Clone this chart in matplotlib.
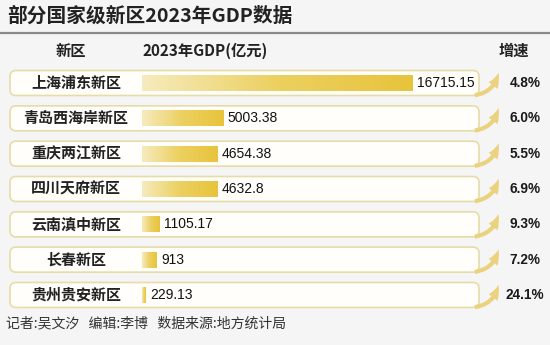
import numpy as np
import matplotlib
matplotlib.use("Agg")
import matplotlib.pyplot as plt
from matplotlib.patches import FancyBboxPatch, FancyArrowPatch
from matplotlib.colors import LinearSegmentedColormap

plt.rcParams["font.family"] = ["Noto Sans CJK SC", "DejaVu Sans"]

# data
areas = ["上海浦东新区", "青岛西海岸新区", "重庆两江新区", "四川天府新区",
         "云南滇中新区", "长春新区", "贵州贵安新区"]
gdp = [16715.15, 5003.38, 4654.38, 4632.8, 1105.17, 913, 229.13]
gdp_labels = ["16715.15", "5003.38", "4654.38", "4632.8", "1105.17", "913", "229.13"]
growth = ["4.8%", "6.0%", "5.5%", "6.9%", "9.3%", "7.2%", "24.1%"]

title = "部分国家级新区2023年GDP数据"
footer = "记者:吴文汐   编辑:李博   数据来源:地方统计局"

W, H = 550, 345
BG = "#f5f5f6"
row0, step = 83, 35.33          # row centres in pixels
num_font = ["Liberation Sans", "DejaVu Sans"]

fig = plt.figure(figsize=(W / 100, H / 100), dpi=100, facecolor=BG)
ax = fig.add_axes([0, 0, 1, 1])
ax.set_xlim(0, W); ax.set_ylim(H, 0); ax.axis("off")
ax.set_facecolor(BG)

# title + rule
ax.text(7, 16, title, fontsize=14.2, fontweight="bold", color="#222222",
        va="center", ha="left")
ax.plot([0, W], [33, 33], color="#8a8a8a", lw=1.6)

# header
ax.text(71, 51, "新区", fontsize=11, fontweight="bold", color="#222222",
        ha="center", va="center")
ax.text(205, 51, "2023年GDP(亿元)", fontsize=11, fontweight="bold", color="#222222",
        ha="center", va="center")
ax.text(514, 51, "增速", fontsize=11, fontweight="bold", color="#222222",
        ha="center", va="center")

for i, (name, g) in enumerate(zip(areas, growth)):
    yc = row0 + step * i
    box = FancyBboxPatch((10, yc - 12.5), 469, 25,
                         boxstyle="round,pad=0,rounding_size=6",
                         fc="#fffefa", ec="#e6dca8", lw=1.2, zorder=1)
    ax.add_patch(box)
    ax.text(76, yc, name, fontsize=10.8, fontweight="bold", color="#222222",
            ha="center", va="center", zorder=3)
    arr = FancyArrowPatch((472, yc + 12.5), (499, yc - 13),
                          connectionstyle="arc3,rad=0.4",
                          arrowstyle="simple,head_width=8,head_length=10,tail_width=3",
                          color="#ebd27e", lw=0, zorder=2)
    ax.add_patch(arr)
    ax.text(525, yc, g, fontsize=9.8, fontweight="bold", color="#1a1a1a",
            ha="center", va="center", family=num_font)

ax.text(6, 323, footer, fontsize=10, color="#333333", ha="left", va="center")

# bar panel, scaled so the largest bar runs from x=142px to x=413px
px_per_unit = (413 - 142) / gdp[0]
left_px, right_px = 142, 480
top_px = row0 - step / 2
bot_px = row0 + step * (len(areas) - 0.5)
bx = fig.add_axes([left_px / W, 1 - bot_px / H,
                   (right_px - left_px) / W, (bot_px - top_px) / H])
bx.axis("off")
bx.patch.set_alpha(0)

cmap = LinearSegmentedColormap.from_list("gold", ["#f6ebbe", "#ecd060", "#e8c43c"])
grad = np.linspace(0, 1, 256).reshape(1, -1)
bar_h = 16 / step
bars = bx.barh(range(len(areas)), gdp, height=bar_h, color="none", lw=0)
for i, (b, v, lab) in enumerate(zip(bars, gdp, gdp_labels)):
    bx.imshow(grad, extent=[0, v, i + bar_h / 2, i - bar_h / 2], cmap=cmap,
              aspect="auto", interpolation="bilinear", zorder=2)
    bx.annotate(lab, (v, i), xytext=(3, 0), textcoords="offset points",
                ha="left", va="center", fontsize=10, color="#111111",
                family=num_font, zorder=3)
bx.set_xlim(0, (right_px - left_px) / px_per_unit)
bx.set_ylim(len(areas) - 0.5, -0.5)

fig.savefig("out.png", dpi=100, facecolor=BG)
